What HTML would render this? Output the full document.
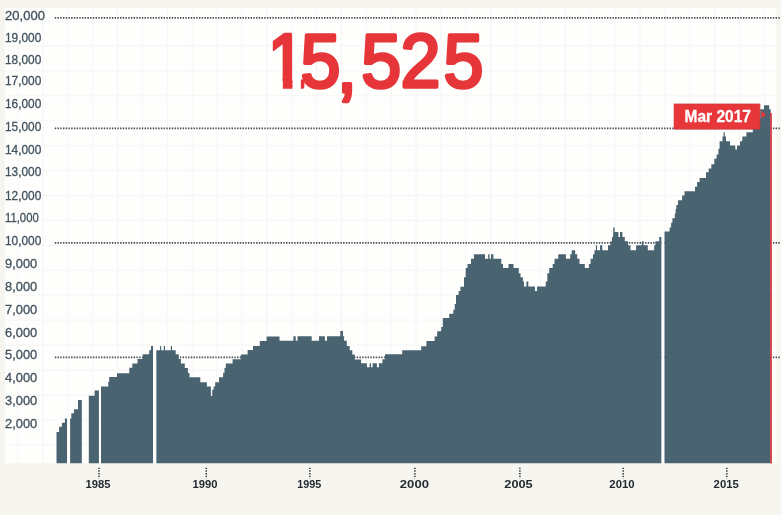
<!DOCTYPE html>
<html lang="en">
<head>
<meta charset="utf-8">
<title>15,525 — Mar 2017</title>
<style>
html,body{margin:0;padding:0;background:#f6f5f0;}
body{width:781px;height:515px;overflow:hidden;font-family:"Liberation Sans",sans-serif;}
svg{display:block;}
text{font-family:"Liberation Sans",sans-serif;}
.yl text{font-size:12.6px;fill:#42525e;stroke:#42525e;stroke-width:0.3px;}
.xl text{font-size:11.3px;font-weight:bold;fill:#232a30;text-anchor:middle;}
</style>
</head>
<body>
<svg width="781" height="515" viewBox="0 0 781 515">
<rect x="0" y="0" width="781" height="515" fill="#f6f5f0"/>
<rect x="5" y="8" width="771.2" height="455.2" fill="#fefefd"/>
<path d="M18.00 8V463.2M42.88 8V463.2M67.76 8V463.2M92.64 8V463.2M117.52 8V463.2M142.40 8V463.2M167.28 8V463.2M192.16 8V463.2M217.04 8V463.2M241.92 8V463.2M266.80 8V463.2M291.68 8V463.2M316.56 8V463.2M341.44 8V463.2M366.32 8V463.2M391.20 8V463.2M416.08 8V463.2M440.96 8V463.2M465.84 8V463.2M490.72 8V463.2M515.60 8V463.2M540.48 8V463.2M565.36 8V463.2M590.24 8V463.2M615.12 8V463.2M640.00 8V463.2M664.88 8V463.2M689.76 8V463.2M714.64 8V463.2M739.52 8V463.2M764.40 8V463.2M5 21.10H776.2M5 46.02H776.2M5 70.94H776.2M5 95.86H776.2M5 120.78H776.2M5 145.70H776.2M5 170.62H776.2M5 195.54H776.2M5 220.46H776.2M5 245.38H776.2M5 270.30H776.2M5 295.22H776.2M5 320.14H776.2M5 345.06H776.2M5 369.98H776.2M5 394.90H776.2M5 419.82H776.2M5 444.74H776.2" stroke="#f5f5f5" stroke-width="1" fill="none"/>
<g stroke="#454d54" stroke-width="1.8" stroke-dasharray="1.42 1.3" fill="none">
<path d="M54.8 17.9H781"/>
<path d="M54.8 128.3H781"/>
<path d="M54.8 242.8H781"/>
<path d="M54.8 357.3H781"/>
</g>
<path d="M56.5 463.2V432.1H59.1V426.8H61.9V422.8H64.9V418.4H67.0V463.2ZM70.1 463.2V418.4H71.3V413.2H73.9V409.2H78.0V400.1H81.8V463.2ZM88.8 463.2V395.7H94.6V390.5H98.9V463.2ZM101.0 463.2V386.5H108.3V381.7H109.2V377.0H117.0V373.2H129.3V367.8H132.3V363.5H137.5V359.1H142.8V354.2H149.2V350.2H151.0V346.1H153.0V463.2ZM156.2 463.2V350.2H160.1V346.1H161.2V350.2H163.8V346.1H165.0V350.2H170.8V346.1H172.0V350.2H175.7V354.2H178.7V359.1H180.9V363.6H184.8V368.0H187.9V372.9H189.5V377.2H200.3V382.2H206.9V386.4H210.9V395.9H212.2V389.8H213.6V386.4H215.2V382.3H219.0V377.2H223.1V372.8H224.5V368.0H225.8V363.6H232.6V359.2H240.8V354.5H247.6V350.1H253.0V345.9H259.8V340.9H266.6V336.5H279.5V340.8H293.4V336.3H295.7V340.8H297.5V336.3H311.7V340.8H319.0V336.3H324.9V340.8H327.0V336.3H340.3V331.1H343.0V336.3H344.1V340.8H346.8V345.9H349.7V350.3H352.3V354.4H354.8V359.5H361.1V363.3H366.9V367.2H369.6V363.3H371.0V367.2H372.6V363.3H376.9V367.2H378.9V363.3H382.4V359.3H385.0V354.2H402.2V350.3H421.2V346.2H426.4V341.0H434.6V336.4H437.2V331.2H441.2V327.1H442.8V317.9H449.2V313.8H453.3V309.7H454.7V303.9H456.0V295.0H458.6V291.0H460.4V286.8H464.0V277.3H465.7V268.0H467.5V263.9H471.0V258.7H473.9V254.3H485.0V258.7H488.2V254.3H489.6V258.7H491.0V254.3H493.4V258.7H501.3V263.9H503.0V268.0H508.5V263.9H513.5V268.0H518.8V273.2H520.5V277.3H522.9V281.4H524.0V286.6H526.4V281.4H528.3V286.6H534.9V290.9H537.1V286.6H545.7V281.4H547.3V273.2H549.2V268.0H552.7V263.9H554.5V258.7H558.3V254.3H565.9V258.7H570.2V254.3H571.7V250.3H575.2V254.3H577.2V258.7H579.5V263.9H584.8V268.0H588.9V263.9H590.6V258.7H593.0V254.3H594.5V250.3H595.9V245.2H597.0V250.3H600.0V245.2H602.3V250.3H608.0V245.2H610.5V241.2H612.0V237.0H613.2V227.5H614.6V232.1H618.4V237.0H620.0V232.1H622.4V237.0H624.8V241.2H628.0V245.3H630.5V250.2H636.1V245.3H641.7V241.2H643.4V245.3H647.8V250.2H654.2V245.3H655.4V241.2H659.2V237.0H661.6V463.2ZM664.3 463.2V231.6H669.6V227.5H671.1V222.8H672.4V218.2H674.8V213.5H675.6V209.0H676.3V204.9H678.0V200.2H682.1V195.6H684.5V191.2H695.0V186.8H697.1V182.1H699.6V178.1H706.0V172.2H708.7V168.4H711.3V164.3H714.3V158.7H716.6V154.6H718.4V148.8H719.6V141.2H722.5V136.6H723.6V132.3H724.8V136.6H726.0V141.2H730.0V145.5H735.3V149.4H737.0V145.5H740.0V141.2H742.3V136.6H746.4V132.3H752.8V127.0H756.0V118.0H760.2V109.3H764.0V105.2H769.2V109.3H770.7V463.2Z" fill="#4a6371"/>
<path d="M153 340H156.2V463.2H153ZM661.6 230H664.3V463.2H661.6Z" fill="#fefefd"/>
<rect x="770.2" y="113" width="1.7" height="350.4" fill="#dc3a3e"/>
<g class="yl"><text x="5.0" y="20.4" textLength="39.9" lengthAdjust="spacingAndGlyphs">20,000</text><text x="5.0" y="41.7" textLength="36.3" lengthAdjust="spacingAndGlyphs">19,000</text><text x="5.0" y="63.5" textLength="36.3" lengthAdjust="spacingAndGlyphs">18,000</text><text x="5.0" y="85.1" textLength="36.3" lengthAdjust="spacingAndGlyphs">17,000</text><text x="5.0" y="107.8" textLength="36.3" lengthAdjust="spacingAndGlyphs">16,000</text><text x="5.0" y="130.5" textLength="36.3" lengthAdjust="spacingAndGlyphs">15,000</text><text x="5.0" y="153.7" textLength="36.3" lengthAdjust="spacingAndGlyphs">14,000</text><text x="5.0" y="176.4" textLength="36.3" lengthAdjust="spacingAndGlyphs">13,000</text><text x="5.0" y="199.7" textLength="36.3" lengthAdjust="spacingAndGlyphs">12,000</text><text x="5.0" y="222.4" textLength="33.7" lengthAdjust="spacingAndGlyphs">11,000</text><text x="5.0" y="245.4" textLength="36.3" lengthAdjust="spacingAndGlyphs">10,000</text><text x="5.0" y="268.4" textLength="32.2" lengthAdjust="spacingAndGlyphs">9,000</text><text x="5.0" y="290.6" textLength="32.2" lengthAdjust="spacingAndGlyphs">8,000</text><text x="5.0" y="313.8" textLength="32.2" lengthAdjust="spacingAndGlyphs">7,000</text><text x="5.0" y="336.5" textLength="32.2" lengthAdjust="spacingAndGlyphs">6,000</text><text x="5.0" y="359.3" textLength="32.2" lengthAdjust="spacingAndGlyphs">5,000</text><text x="5.0" y="382.3" textLength="32.2" lengthAdjust="spacingAndGlyphs">4,000</text><text x="5.0" y="405.4" textLength="32.2" lengthAdjust="spacingAndGlyphs">3,000</text><text x="5.0" y="428.1" textLength="32.2" lengthAdjust="spacingAndGlyphs">2,000</text></g>
<g stroke="#232a30" stroke-width="1.4" stroke-dasharray="1.4 1.25" fill="none"><path d="M99.0 467.7V478.6"/><path d="M206.3 467.7V478.6"/><path d="M309.9 467.7V478.6"/><path d="M414.9 467.7V478.6"/><path d="M519.9 467.7V478.6"/><path d="M623.2 467.7V478.6"/><path d="M726.8 467.7V478.6"/></g>
<g class="xl"><text x="98.0" y="488.2" textLength="25.0" lengthAdjust="spacingAndGlyphs">1985</text><text x="205.1" y="488.2" textLength="25.0" lengthAdjust="spacingAndGlyphs">1990</text><text x="309.2" y="488.2" textLength="24.0" lengthAdjust="spacingAndGlyphs">1995</text><text x="414.4" y="488.2" textLength="29.1" lengthAdjust="spacingAndGlyphs">2000</text><text x="518.5" y="488.2" textLength="28.4" lengthAdjust="spacingAndGlyphs">2005</text><text x="622.0" y="488.2" textLength="25.3" lengthAdjust="spacingAndGlyphs">2010</text><text x="726.2" y="488.2" textLength="25.2" lengthAdjust="spacingAndGlyphs">2015</text></g>
<clipPath id="cp"><path d="M272.8 20H292.4V110H282.9V80.5H282V60H272.8ZM296 20H500V110H300.9V74H296Z"/></clipPath>
<g clip-path="url(#cp)"><text transform="scale(0.945,1)" x="281.69 317.99 356.61 382.22 423.92 469.42" y="87.3 87.3 92.5 87.3 87.3 87.3" font-size="76" fill="#e6363a" stroke="#e6363a" stroke-width="3.5" stroke-linejoin="round">15,525</text></g>
<rect x="674.1" y="104" width="85.8" height="25.1" fill="#e7373a" stroke="#cf3a3d" stroke-width="0.8"/>
<path d="M761.5 111L766.2 114.7L761.5 118.4Z" fill="#e7373a"/>
<text x="684.6" y="121.5" font-size="17" font-weight="bold" fill="#ffffff" stroke="#ffffff" stroke-width="0.3" textLength="66.3" lengthAdjust="spacingAndGlyphs">Mar 2017</text>
</svg>
</body>
</html>
